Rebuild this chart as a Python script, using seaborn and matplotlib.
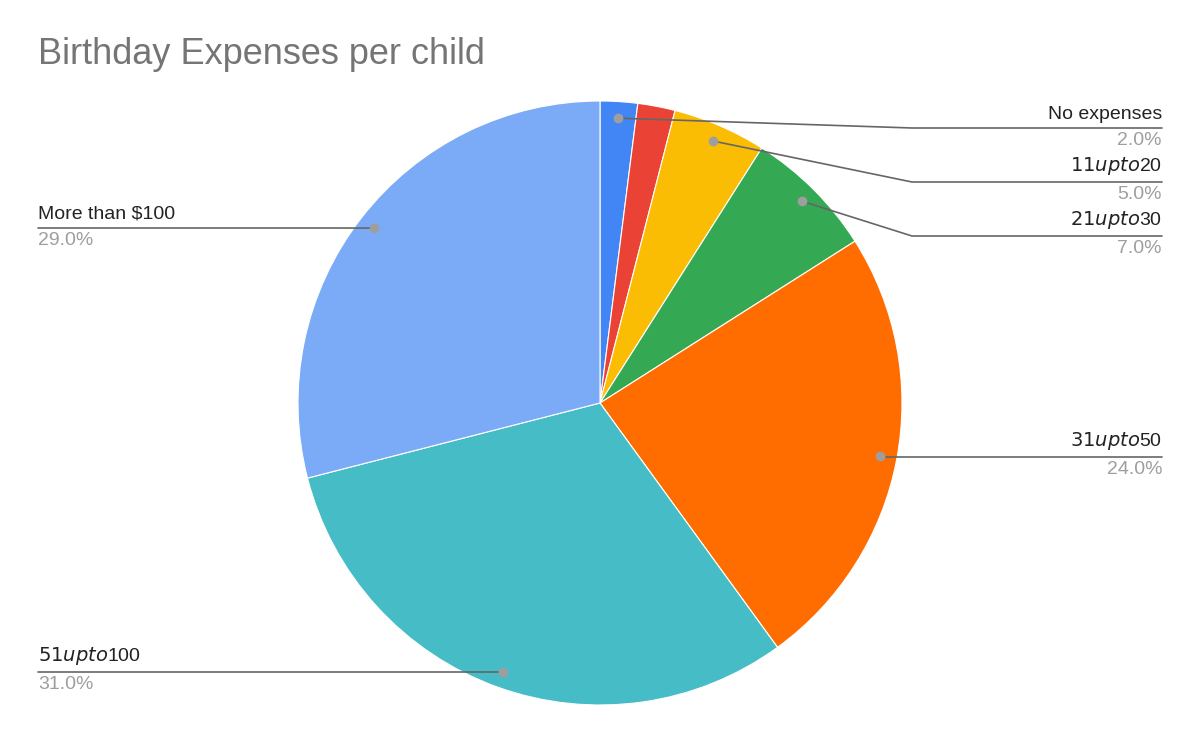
import numpy as np
import matplotlib
matplotlib.use("Agg")
import matplotlib.pyplot as plt
import seaborn as sns

categories = ["No expenses", "$1 upto $10", "$11 upto $20", "$21 upto $30",
              "$31 upto $50", "$51 upto $100", "More than $100"]
values = [2.0, 2.0, 5.0, 7.0, 24.0, 31.0, 29.0]
colors = ["#4285f4", "#ea4335", "#fbbc04", "#34a853", "#ff6d01", "#46bdc6", "#7baaf7"]
show_label = [True, False, True, True, True, True, True]

sns.set_theme(style="white")
plt.rcParams['font.family'] = ['Liberation Sans', 'DejaVu Sans']

W, H = 1200, 742
fig = plt.figure(figsize=(12, 7.42), dpi=100)
ax = fig.add_axes([0, 0, 1, 1])
ax.set_xlim(0, W); ax.set_ylim(0, H); ax.set_aspect('equal'); ax.axis('off')

cx, cy, r = 600, H - 403, 302
ax.pie(values, colors=colors, startangle=90, counterclock=False, radius=r,
       center=(cx, cy), wedgeprops=dict(linewidth=0.8, edgecolor='white'),
       frame=True)
ax.set_xlim(0, W); ax.set_ylim(0, H); ax.axis('off')

# label layout: (side, label line y in px from top, elbow x)
layout = {
    "No expenses": ("R", 128, 912),
    "$11 upto $20": ("R", 182, 912),
    "$21 upto $30": ("R", 236, 912),
    "$31 upto $50": ("R", 457, None),
    "$51 upto $100": ("L", 672, None),
    "More than $100": ("L", 228, 330),
}
total = sum(values)
cum = 0
for cat, v, show in zip(categories, values, show_label):
    mid = 90 - (cum + v / 2) / total * 360
    cum += v
    if not show:
        continue
    px = cx + 0.945 * r * np.cos(np.radians(mid))
    py = cy + 0.945 * r * np.sin(np.radians(mid))
    side, ly, ex = layout[cat]
    ly = H - ly
    if side == "R":
        xe = ex if ex is not None else px
        ax.plot([px, xe, 1162], [py, ly, ly], color="#666666", lw=1.2, zorder=3)
        ax.text(1162, ly + 5, cat, ha="right", va="bottom", fontsize=14, color="#222222")
        ax.text(1162, ly - 4, f"{v:.1f}%", ha="right", va="top", fontsize=14, color="#9e9e9e")
    else:
        xe = ex if ex is not None else px
        ax.plot([38, xe, px], [ly, ly, py], color="#666666", lw=1.2, zorder=3)
        ax.text(38, ly + 5, cat, ha="left", va="bottom", fontsize=14, color="#222222")
        ax.text(38, ly - 4, f"{v:.1f}%", ha="left", va="top", fontsize=14, color="#9e9e9e")
    ax.plot([px], [py], marker="o", ms=6, color="#9e9e9e", zorder=4)

fig.text(38 / W, 1 - 55 / H, "Birthday Expenses per child", fontsize=26,
         color="#757575", ha="left", va="center")
fig.savefig("out.png", dpi=100)
